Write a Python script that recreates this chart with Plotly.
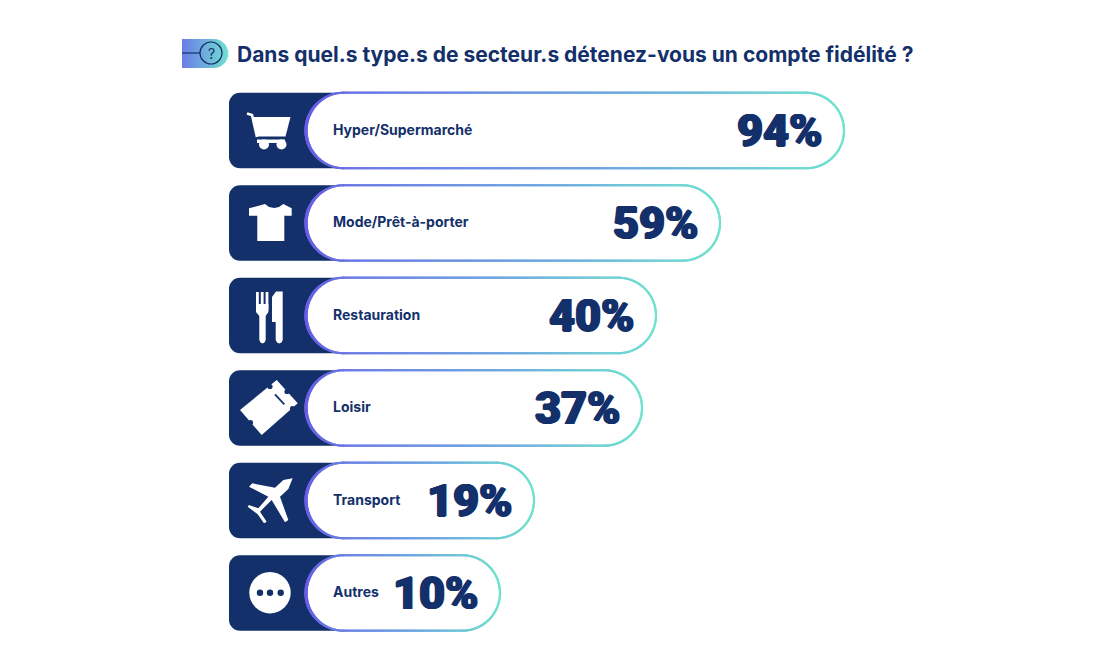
import math
import plotly.graph_objects as go

categories = ["Hyper/Supermarché", "Mode/Prêt-à-porter", "Restauration", "Loisir", "Transport", "Autres"]
values = [94, 59, 40, 37, 19, 10]
# drawn pill lengths (the source is not to scale)
bar_lengths = [538, 414, 350, 336, 228, 194]
title = "Dans quel.s type.s de secteur.s détenez-vous un compte fidélité ?"

NAVY = "#13306b"
W, H = 1119, 647
PITCH = 92.5
Y0 = 130.5
BAR_H = 75.5
LEFT = 229
PILL = 306
rows = list(range(len(categories)))


def Y(p):
    return (p - Y0) / PITCH


fig = go.Figure()
fig.add_trace(go.Bar(
    y=rows, x=[131] * len(rows), base=[LEFT] * len(rows), orientation="h",
    width=BAR_H / PITCH, marker=dict(color=NAVY, cornerradius=11, line=dict(width=0)),
    hoverinfo="skip"))
fig.add_trace(go.Bar(
    y=rows, x=bar_lengths, base=[PILL] * len(rows), orientation="h",
    width=BAR_H / PITCH, marker=dict(color="#ffffff", cornerradius=37, line=dict(width=0)),
    hovertext=[f"{c}: {v}%" for c, v in zip(categories, values)], hoverinfo="text"))

# gradient outline of each pill
R = BAR_H / 2
for r, length in zip(rows, bar_lengths):
    x0, x1 = PILL + R, PILL + length - R
    cy = Y0 + r * PITCH
    pts = []
    n = int((x1 - x0) / 0.6)
    for i in range(n + 1):
        x = x0 + (x1 - x0) * i / n
        pts += [(x, cy - R), (x, cy + R)]
    for i in range(260):
        a = -math.pi / 2 + math.pi * i / 259
        pts.append((x1 + R * math.cos(a), cy + R * math.sin(a)))
        pts.append((x0 - R * math.cos(a), cy + R * math.sin(a)))
    xs = [p[0] for p in pts]
    ys = [Y(p[1]) for p in pts]
    frac = [(x - PILL) / length for x in xs]
    size = [2.3 + 1.0 * max(0, 1 - (x - PILL) / 20) for x in xs]
    fig.add_trace(go.Scatter(
        x=xs, y=ys, mode="markers", hoverinfo="skip",
        marker=dict(size=size, color=frac, cmin=0, cmax=1, line=dict(width=0),
                    colorscale=[[0, "#6a5fe6"], [0.12, "#6a78e6"], [0.6, "#69a8e0"], [1, "#6fe3cf"]],
                    showscale=False)))

fig.add_trace(go.Scatter(
    x=[333] * len(rows), y=[r + 0.5 / PITCH for r in rows], mode="text", text=categories,
    textposition="middle right", hoverinfo="skip",
    textfont=dict(family="Inter", size=14, color=NAVY, weight=700)))
fig.add_trace(go.Scatter(
    x=[PILL + l - 21.5 for l in bar_lengths], y=[r + 4.5 / PITCH for r in rows], mode="text",
    text=[f"{v}%" for v in values], textposition="middle left", hoverinfo="skip",
    textfont=dict(family="Roboto", size=45, color=NAVY, weight=900,
                  shadow="1px 0 0 #13306b, -1px 0 0 #13306b, 0 0.6px 0 #13306b, 0 -0.6px 0 #13306b")))

shapes = []


def path(points, fill="#ffffff", closed=True):
    d = "M" + " L".join(f"{x:.2f},{Y(y):.4f}" for x, y in points) + (" Z" if closed else "")
    shapes.append(dict(type="path", path=d, xref="x", yref="y", fillcolor=fill,
                       line=dict(width=0), layer="above"))


def line(points, color="#ffffff", width=2):
    d = "M" + " L".join(f"{x:.2f},{Y(y):.4f}" for x, y in points)
    shapes.append(dict(type="path", path=d, xref="x", yref="y",
                       line=dict(width=width, color=color), layer="above"))


def circle(cx, cy, r, fill="#ffffff", stroke=None, sw=0):
    shapes.append(dict(type="circle", x0=cx - r, x1=cx + r, y0=Y(cy - r), y1=Y(cy + r),
                       xref="x", yref="y", fillcolor=fill, layer="above",
                       line=dict(width=sw, color=stroke or fill)))


def mix(a, b, t):
    return "#" + "".join(f"{int(a[i] + (b[i] - a[i]) * t):02x}" for i in range(3))


# title marker: gradient tab
for px in range(182, 228):
    t = (px - 182) / 45
    half = 14.5
    if px > 213.5:
        half = math.sqrt(max(0, 14.5 ** 2 - (px + 0.5 - 213.5) ** 2))
    shapes.append(dict(type="rect", x0=px, x1=px + 1.2, y0=Y(53.5 - half), y1=Y(53.5 + half),
                       xref="x", yref="y", layer="above", line=dict(width=0),
                       fillcolor=mix((0x6c, 0x7e, 0xe8), (0x70, 0xe0, 0xd0), t)))
line([(182, 53), (200, 53)], NAVY, 1.2)
circle(211, 53, 11, "rgba(0,0,0,0)", NAVY, 1.2)

# cart
line([(247, 113.5), (252, 115), (257, 137)], "#ffffff", 2.6)
path([(252, 117), (290.5, 117), (285.5, 136.5), (257, 136.5)])
path([(257, 139.5), (285, 139.5), (285, 143), (257, 143)])
circle(264, 144.5, 5)
circle(281.5, 144.5, 5)
circle(272.8, 148, 3.5, NAVY)

# t-shirt
path([(249, 208.3), (265, 204), (269, 207), (274.3, 208), (279, 207), (283.3, 204), (291.7, 208.3),
      (291.7, 215.7), (284.3, 215.7), (284.3, 241), (257.3, 241), (257.3, 215.7), (249, 215.7)])

# fork and knife
for x in (256, 260.8, 265.6):
    path([(x, 292), (x + 2.8, 292), (x + 2.8, 310), (x, 310)])
path([(256, 304), (268.4, 304), (268.4, 312), (265.7, 316), (265.7, 340), (264.5, 342.5), (262.5, 343.5), (260.5, 342.5),
      (259.3, 340), (259.3, 316), (256, 312)])
path([(276, 291.5), (282.7, 291.5), (282.7, 340), (281.5, 342.5), (279.2, 343.5), (277, 342.5), (275.7, 340),
      (275.7, 322), (272, 322), (272, 297)])

# ticket
path([(276.7, 380), (297.7, 403.3), (261.7, 435), (240, 410)])
for cx, cy in [(270, 386.5), (292.5, 408.5), (250.5, 422.5), (287, 391.5)]:
    circle(cx, cy, 2.6, NAVY)
line([(275, 394.3), (284.3, 404.3)], NAVY, 1.8)

# plane
crop = [(203, 340), (190, 372), (165, 395), (190, 465), (180, 472), (140, 405), (105, 440), (125, 470), (117, 475),
        (98, 448), (90, 442), (68, 425), (72, 420), (100, 430), (130, 395), (72, 365), (82, 355), (150, 368), (175, 345)]
path([(225 + a / 3, 365 + b / 3) for a, b in crop])

# dots
circle(270, 592.7, 20.7)
for x in (260, 270, 280.7):
    circle(x, 592.7, 3.2, NAVY)

annotations = [
    dict(x=235, y=Y(54), xref="x", yref="y", text=title, showarrow=False, xanchor="left", yanchor="middle",
         font=dict(family="Inter", size=21, color=NAVY, weight=700)),
    dict(x=211, y=Y(53), xref="x", yref="y", text="?", showarrow=False, xanchor="center", yanchor="middle",
         font=dict(family="Inter", size=14, color=NAVY, weight=400)),
]

fig.update_layout(
    width=W, height=H, margin=dict(l=0, r=0, t=0, b=0), autosize=False,
    paper_bgcolor="#ffffff", plot_bgcolor="#ffffff", showlegend=False, barmode="overlay",
    xaxis=dict(range=[0, W], visible=False, fixedrange=True),
    yaxis=dict(range=[Y(H), Y(0)], visible=False, fixedrange=True),
    shapes=shapes, annotations=annotations,
)
fig.write_html("out.html", config={"displayModeBar": False},
               post_script="document.body.style.margin='0';document.body.style.overflow='hidden';")
